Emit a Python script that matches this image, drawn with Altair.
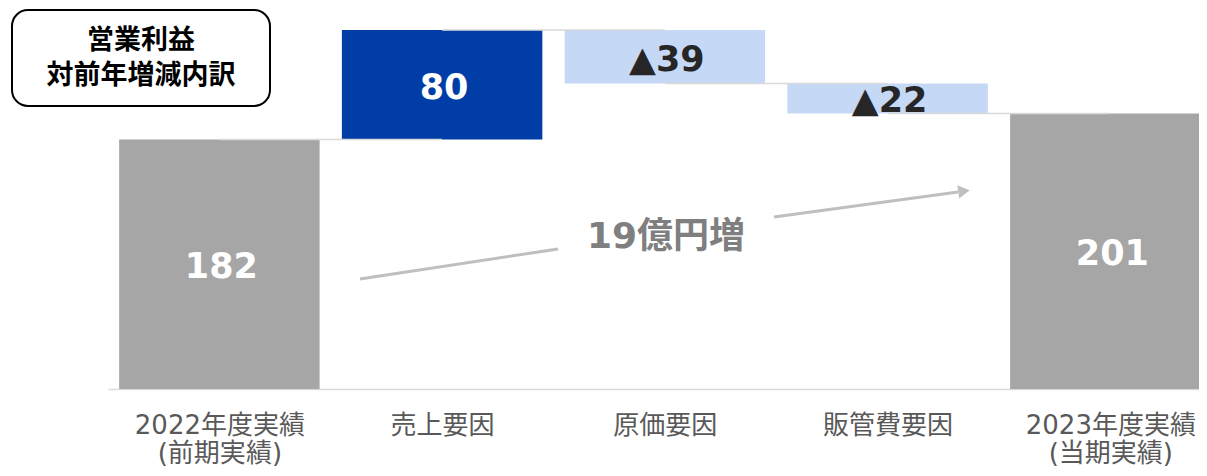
import json
import altair as alt
import pandas as pd

FONT = "DejaVu Sans, Noto Sans CJK JP"
CJK = "Noto Sans CJK JP"

categories = ["2022年度実績\n(前期実績)", "売上要因", "原価要因", "販管費要因", "2023年度実績\n(当期実績)"]
amounts = [182, 80, -39, -22, 201]
kinds = ["total", "increase", "decrease", "decrease", "total"]
value_labels = ["182", "80", "▲39", "▲22", "201"]
label_colors = ["white", "white", "#262626", "#262626", "white"]

kind_domain = ["total", "increase", "decrease"]
kind_colors = ["#a6a6a6", "#003da6", "#c5d8f5"]

HALF = 0.45  # half bar width in category units

rows = []
level = 0
for i, (c, a, k, lab, tc) in enumerate(zip(categories, amounts, kinds, value_labels, label_colors)):
    if k == "total":
        start, end = 0, a
    else:
        start, end = level, level + a
    level = end
    rows.append(dict(idx=i, left=i - HALF, right=i + HALF, cat=c, start=start, end=end,
                     kind=k, label=lab, tcolor=tc, mid=(start + end) / 2))
df = pd.DataFrame(rows)

conn = pd.DataFrame({
    "idx": list(range(len(categories) - 1)),
    "nidx": list(range(1, len(categories))),
    "level": [r["end"] for r in rows[:-1]],
})

label_expr = "split(" + json.dumps(categories, ensure_ascii=False) + "[datum.value], '\\n')"
xscale = alt.Scale(domain=[-0.5, 4.398], nice=False, zero=False)
xaxis = alt.Axis(
    title=None, labelAngle=0, labelFontSize=26, labelColor="#595959", labelFont=FONT,
    labelPadding=23, ticks=False, domainColor="#d9d9d9", domainWidth=1.5,
    values=list(range(len(categories))), labelExpr=label_expr, labelLineHeight=28,
    labelOverlap=False, labelLimit=0, labelFlush=False, labelBound=False, grid=False,
)
yscale = alt.Scale(domain=[0, 278], nice=False, zero=True)

bars = alt.Chart(df).mark_bar().encode(
    x=alt.X("left:Q", scale=xscale, axis=xaxis),
    x2="right:Q",
    y=alt.Y("start:Q", scale=yscale, axis=None),
    y2="end:Q",
    color=alt.Color("kind:N", scale=alt.Scale(domain=kind_domain, range=kind_colors), legend=None),
)

connectors = alt.Chart(conn).mark_rule(color="#d9d9d9", strokeWidth=1.5).encode(
    x=alt.X("idx:Q", scale=xscale, axis=xaxis), x2="nidx:Q",
    y=alt.Y("level:Q", scale=yscale, axis=None),
)

texts = alt.Chart(df).mark_text(fontSize=35, fontWeight="bold", font=FONT, baseline="middle", dy=3, dx=2).encode(
    x=alt.X("idx:Q", scale=xscale, axis=xaxis),
    y=alt.Y("mid:Q", scale=yscale, axis=None),
    text="label:N",
    color=alt.Color("tcolor:N", scale=None, legend=None),
)

one = pd.DataFrame({"a": [0]})

seg1 = alt.Chart(one).mark_rule(color="#bfbfbf", strokeWidth=3).encode(
    x=alt.value(252), y=alt.value(271), x2=alt.value(450), y2=alt.value(241)
)
seg2 = alt.Chart(one).mark_rule(color="#bfbfbf", strokeWidth=3).encode(
    x=alt.value(666), y=alt.value(209), x2=alt.value(850), y2=alt.value(184)
)
head = alt.Chart(one).mark_point(shape="triangle-right", filled=True, opacity=1, size=180,
                                 angle=351.6, color="#bfbfbf").encode(
    x=alt.value(856), y=alt.value(183)
)
growth = alt.Chart(one).mark_text(text="19億円増", fontSize=36, fontWeight="bold", font=FONT,
                                  color="#7f7f7f", baseline="middle").encode(
    x=alt.value(558), y=alt.value(229)
)

box = alt.Chart(one).mark_rect(cornerRadius=16, fill="white", stroke="black", strokeWidth=2).encode(
    x=alt.value(-96), x2=alt.value(162), y=alt.value(2), y2=alt.value(98)
)
t1 = alt.Chart(one).mark_text(text="営業利益", fontSize=27, fontWeight="bold", font=CJK,
                              color="black", baseline="middle").encode(x=alt.value(33), y=alt.value(33))
t2 = alt.Chart(one).mark_text(text="対前年増減内訳", fontSize=27, fontWeight="bold", font=CJK,
                              color="black", baseline="middle").encode(x=alt.value(33), y=alt.value(68))

chart = alt.layer(
    bars, connectors, texts, seg1, seg2, head, growth, box, t1, t2
).resolve_scale(color="independent").properties(
    width=1091, height=381,
    autosize=alt.AutoSizeParams(type="none"),
    padding={"left": 100, "top": 0, "right": 0, "bottom": 79},
).configure_view(stroke=None)

chart.save("out.html", embed_options={"renderer": "svg", "actions": False})
